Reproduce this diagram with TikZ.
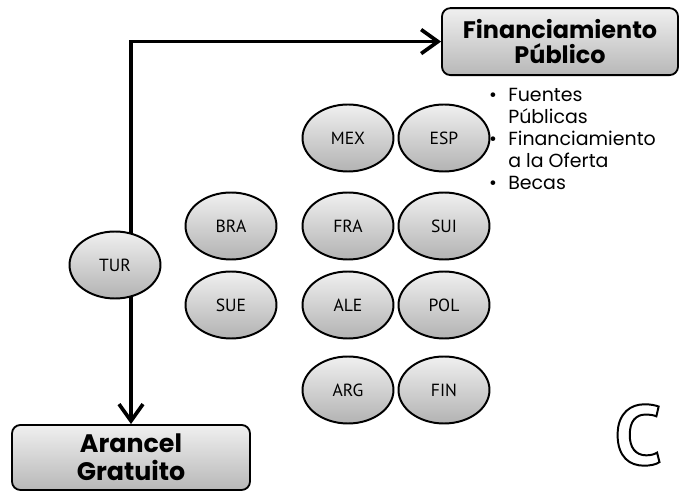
\documentclass[tikz,border=0pt]{standalone}
\usepackage{fontspec}
\setmainfont{Poppins}
\newfontfamily\paisfont{PT Sans}
\usetikzlibrary{shapes.geometric,arrows.meta}
\newcommand{\contorno}[1]{\special{pdf:literal direct q 1 Tr 1.4 w}#1\special{pdf:literal direct Q}}
\tikzset{
  pais/.style={ellipse, draw=black, line width=1.4pt, top color=black!6, bottom color=black!30,
    minimum width=2.275cm, minimum height=1.675cm, inner sep=0pt, font=\paisfont\fontsize{12.5}{14}\selectfont},
  caja/.style={rectangle, rounded corners=6pt, draw=black, line width=1.3pt, top color=black!6, bottom color=black!28,
    inner sep=0pt, align=center, font=\bfseries\fontsize{17}{18}\selectfont},
  flecha/.style={line width=2.6pt, -{Straight Barb[length=0.42cm, width=0.6cm]}},
  lista/.style={align=left, inner sep=0pt, anchor=north west, font=\fontsize{13.5}{15.6}\selectfont},
}

\begin{document}
\begin{tikzpicture}
\useasboundingbox (0,0) rectangle (17.05,12.35);
% cajas
\node[caja, minimum width=5.9cm, minimum height=1.675cm] (finan) at (14.000,11.310) {Financiamiento\\Público};
\node[caja, minimum width=5.95cm, minimum height=1.625cm, font=\bfseries\fontsize{18}{20}\selectfont] (arancel) at (3.275,0.913) {Arancel\\Gratuito};
% paises
\node[pais] (tur) at (2.875,5.725) {TUR};
\node[pais] (bra) at (5.775,6.700) {BRA};
\node[pais] (sue) at (5.775,4.725) {SUE};
\node[pais] (mex) at (8.700,8.900) {MEX};
\node[pais] (esp) at (11.100,8.900) {ESP};
\node[pais] (fra) at (8.700,6.700) {FRA};
\node[pais] (sui) at (11.100,6.700) {SUI};
\node[pais] (ale) at (8.700,4.725) {ALE};
\node[pais] (pol) at (11.100,4.725) {POL};
\node[pais] (arg) at (8.700,2.600) {ARG};
\node[pais] (fin) at (11.100,2.600) {FIN};
% flechas
\draw[flecha] (tur.63 -| arancel.north) |- (finan.west);
\draw[flecha] (tur.297 -| arancel.north) -- (arancel.north);
% lista
\node[lista] (lista) at (12.700,10.150) {\llap{\textbullet\hspace{8pt}}Fuentes\\Públicas\\\llap{\textbullet\hspace{8pt}}Financiamiento\\a la Oferta\\\llap{\textbullet\hspace{8pt}}Becas};
\node[font=\paisfont\bfseries\fontsize{60}{60}\selectfont, inner sep=0pt] (letra) at (15.950,1.475) {\contorno{C}};
\end{tikzpicture}
\end{document}
